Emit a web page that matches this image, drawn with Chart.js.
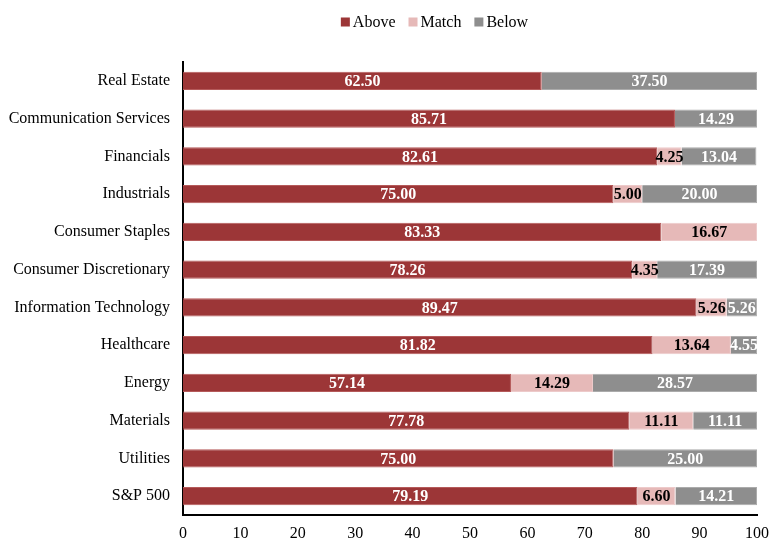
<!DOCTYPE html>
<html><head><meta charset="utf-8">
<script src="https://cdn.jsdelivr.net/npm/chart.js@4"></script>
<style>html,body{margin:0;padding:0;background:#fff}#wrap{width:769px;height:539px}</style>
</head><body><div id="wrap"><canvas id="c"></canvas></div>
<script>
const categories = ["Real Estate","Communication Services","Financials","Industrials","Consumer Staples","Consumer Discretionary","Information Technology","Healthcare","Energy","Materials","Utilities","S&P 500"];
const above = [62.50,85.71,82.61,75.00,83.33,78.26,89.47,81.82,57.14,77.78,75.00,79.19];
const match = [0,0,4.25,5.00,16.67,4.35,5.26,13.64,14.29,11.11,0,6.60];
const below = [37.50,14.29,13.04,20.00,0,17.39,5.26,4.55,28.57,11.11,25.00,14.21];
const xTicks = [0,10,20,30,40,50,60,70,80,90,100];

const serif = "'Liberation Serif','Times New Roman',serif";
const labelColors = ['#ffffff','#000000','#ffffff'];

const barLabels = {
  id:'barLabels',
  afterDatasetsDraw(chart){
    const ctx = chart.ctx;
    ctx.save();
    ctx.font = "bold 16px " + serif;
    ctx.textAlign='center'; ctx.textBaseline='middle';
    chart.data.datasets.forEach((ds,di)=>{
      const meta = chart.getDatasetMeta(di);
      meta.data.forEach((el,i)=>{
        const v = ds.data[i];
        if(!v) return;
        ctx.fillStyle = labelColors[di];
        ctx.fillText(v.toFixed(2), (el.x+el.base)/2, el.y+1);
      });
    });
    ctx.restore();
  }
};

// Compact legend matching the reference (small square, tight gap)
const topLegend = {
  id:'topLegend',
  afterDraw(chart){
    const ctx = chart.ctx;
    ctx.save();
    ctx.font = "16px " + serif;
    ctx.textBaseline='middle'; ctx.textAlign='left';
    const box=9, gap=3, itemGap=13, cy=22, centerX=434.5;
    const items = chart.data.datasets.map(d=>({t:d.label,c:d.backgroundColor,w:ctx.measureText(d.label).width}));
    const total = items.reduce((a,it)=>a+box+gap+it.w,0)+itemGap*(items.length-1);
    let x = centerX - total/2;
    items.forEach(it=>{
      ctx.fillStyle = it.c;
      ctx.fillRect(x, cy-box/2, box, box);
      ctx.fillStyle = '#000';
      ctx.fillText(it.t, x+box+gap, cy+1);
      x += box+gap+it.w+itemGap;
    });
    ctx.restore();
  }
};

new Chart(document.getElementById('c'),{
  type:'bar',
  data:{
    labels:categories,
    datasets:[
      {label:'Above',data:above,backgroundColor:'#9C3637',borderColor:'#B55a5a',borderWidth:1},
      {label:'Match',data:match,backgroundColor:'#E6B9B8',borderColor:'#EDCACA',borderWidth:1},
      {label:'Below',data:below,backgroundColor:'#8E8E8E',borderColor:'#ABABAB',borderWidth:1}
    ]
  },
  options:{
    indexAxis:'y',
    responsive:true,maintainAspectRatio:false,animation:false,
    layout:{padding:{top:62,right:0,bottom:0,left:0}},
    datasets:{bar:{barPercentage:0.48,categoryPercentage:1.0}},
    plugins:{
      legend:{display:false},
      tooltip:{enabled:false}
    },
    scales:{
      x:{stacked:true,min:0,max:100,
        ticks:{stepSize:10,color:'#000',font:{family:serif,size:16},padding:9,maxRotation:0,
          callback:(v)=>xTicks.includes(v)?String(v):''},
        grid:{display:false,drawTicks:false},
        border:{display:true,color:'#000',width:2},
        afterFit(s){s.height=24; s.paddingRight=12;}
      },
      y:{stacked:true,
        ticks:{color:'#000',font:{family:serif,size:16},padding:13},
        grid:{display:false,drawTicks:false},
        border:{display:true,color:'#000',width:2},
        afterFit(s){s.width=183;}
      }
    }
  },
  plugins:[barLabels, topLegend]
});
</script></body></html>
